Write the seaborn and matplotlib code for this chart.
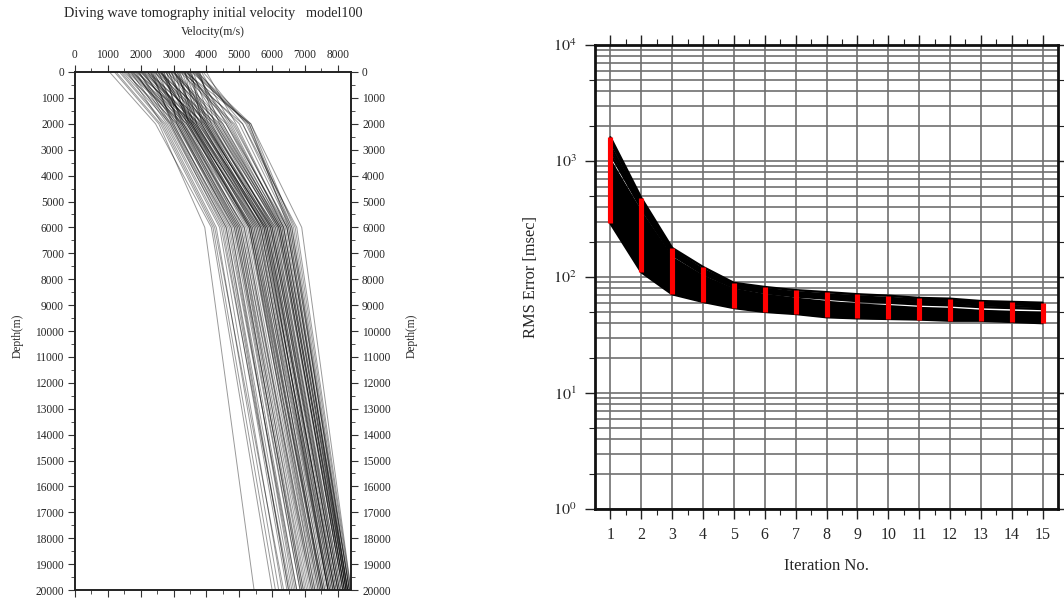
import numpy as np
import pandas as pd
import matplotlib
matplotlib.use("Agg")
import matplotlib.pyplot as plt
from matplotlib.ticker import FixedLocator, NullFormatter
import seaborn as sns

# ---------------------------------------------------------------
# Initial velocity models: velocity (m/s) at the model nodes
# ---------------------------------------------------------------
node_depths = [0, 2000, 6000, 20000]

v_surface = [1050, 1200, 1350, 1450, 1500, 1600, 1650, 1700, 1750, 1800,
             1850, 1900, 1950, 2000, 2050, 2100, 2150, 2200, 2250, 2300,
             2350, 2400, 2450, 2500, 2550, 2600, 2650, 2700, 2750, 2800,
             2850, 2900, 2950, 3000, 3050, 3100, 3150, 3200, 3250, 3300,
             3350, 3400, 3450, 3500, 3550, 3600, 3650, 3700, 3800, 3900,
             4000, 1400, 1550, 1750, 1900, 2050, 2200, 2350, 2450, 2550,
             2650, 2750, 2850, 2950, 3050, 3150, 3250, 3350, 3450, 3550,
             3650, 3750, 1600, 1850, 2100, 2300, 2500, 2700, 2900, 3100,
             3300, 3500, 3700, 1700, 1950, 2200, 2400, 2600, 2800, 3000,
             3200, 3400, 3600, 3850, 1250, 2000, 2600, 3000, 3350, 3750]

v_2km = [2450, 2550, 2700, 2900, 3100, 2650, 3300, 2800, 3500, 3000,
         3650, 3200, 2900, 3400, 3750, 3100, 3550, 3300, 3900, 3000,
         3450, 4050, 3350, 3700, 3150, 4200, 3600, 3250, 3850, 4400,
         3500, 3950, 3400, 4600, 3800, 4100, 3550, 4800, 3900, 4300,
         3700, 5000, 4000, 4500, 5300, 4150, 4700, 5350, 4250, 5200,
         4900, 2750, 2950, 3150, 3550, 3250, 3650, 2950, 3750, 4300,
         3300, 4000, 3650, 4500, 3450, 4150, 5100, 3950, 4650, 3850,
         5300, 4400, 3250, 2850, 3800, 3450, 4100, 3500, 4250, 3700,
         4850, 4050, 4600, 3400, 3050, 3950, 3200, 3850, 3100, 4350,
         3600, 4450, 5250, 4750, 2600, 3600, 3550, 4000, 5350, 5100]

v_6km = [4150, 3950, 4300, 4600, 4900, 4250, 5300, 4450, 5600, 4700,
         5800, 5000, 4500, 5400, 5900, 4850, 5500, 5150, 6000, 4650,
         5250, 6100, 5050, 5700, 4800, 6200, 5450, 4950, 5750, 6300,
         5300, 5950, 5100, 6450, 5650, 6050, 5350, 6500, 5800, 6150,
         5550, 6550, 5850, 6250, 6600, 5950, 6350, 6900, 6000, 6700,
         6450, 4400, 4750, 4950, 5550, 5000, 5650, 4600, 5800, 6250,
         5050, 6000, 5500, 6350, 5200, 6050, 6600, 5750, 6400, 5650,
         6500, 6200, 5150, 4550, 5850, 5350, 6100, 5400, 6150, 5600,
         6450, 5900, 6300, 5350, 4850, 5950, 4900, 5750, 4750, 6200,
         5450, 6250, 6550, 6350, 4200, 5700, 5300, 5850, 6650, 6750]

v_20km = [6000, 5450, 6200, 6500, 6900, 6350, 7300, 6550, 7500, 6700,
          7700, 7100, 6450, 7550, 7900, 6950, 7600, 7250, 8000, 6750,
          7400, 8050, 7200, 7850, 6850, 8150, 7500, 7050, 7800, 8200,
          7450, 8000, 7250, 8300, 7750, 8100, 7550, 8250, 7950, 8150,
          7700, 8350, 7900, 8200, 8300, 7950, 8250, 8400, 8050, 8380,
          8280, 6300, 6650, 6950, 7650, 7000, 7700, 6600, 7850, 8250,
          7150, 8000, 7600, 8300, 7300, 8050, 8350, 7800, 8250, 7750,
          8300, 8150, 7200, 6500, 7850, 7450, 8100, 7500, 8200, 7700,
          8300, 7900, 8200, 7400, 6850, 8000, 6900, 7750, 6750, 8150,
          7550, 8200, 8350, 8250, 6100, 7700, 7350, 7900, 8350, 8400]

# ---------------------------------------------------------------
# RMS misfit per iteration (msec)
# ---------------------------------------------------------------
iterations = list(range(1, 16))
rms_min = [290, 110, 71, 61, 54, 50, 48, 45, 44, 43.5, 43, 42, 42, 41, 40]
rms_max = [1600, 480, 178, 122, 89, 82, 77, 74, 71, 69, 66, 65, 62, 61, 60]
rms_core_top = [1050, 370, 150, 104, 79, 71, 66, 62, 59, 57, 55, 54, 52, 51, 50]

rms_runs = {
    "run01": [1600, 480, 178, 122, 89, 82, 77, 74, 71, 69, 66, 65, 62, 61, 60],
    "run02": [1480, 455, 172, 116, 87, 79, 74, 71, 68, 66, 64, 63, 61, 60, 59],
    "run03": [1350, 430, 166, 112, 85, 77, 72, 69, 66, 64, 62, 61, 59, 58, 57],
    "run04": [1250, 410, 160, 109, 83, 75, 70, 67, 64, 62, 60, 59, 57, 56, 55],
    "run05": [1150, 390, 155, 106, 81, 73, 68, 65, 62, 60, 58, 57, 55, 54, 53],
    "run06": [980, 360, 146, 101, 78, 70, 65, 61, 58, 56, 54, 53, 51, 50, 49],
    "run07": [820, 320, 135, 96, 74, 66, 61, 58, 55, 53, 51, 50, 49, 48, 47],
    "run08": [600, 250, 115, 85, 68, 61, 57, 54, 51, 49, 48, 47, 46, 45, 44],
    "run09": [420, 170, 90, 72, 60, 55, 52, 49, 47, 46, 45, 44, 43, 42, 42],
    "run10": [290, 110, 71, 61, 54, 50, 48, 45, 44, 43.5, 43, 42, 42, 41, 40],
}

# ---------------------------------------------------------------
# Long-form tables for seaborn
# ---------------------------------------------------------------
vel_rows = []
for m, vals in enumerate(zip(v_surface, v_2km, v_6km, v_20km)):
    for d, v in zip(node_depths, vals):
        vel_rows.append({"model": m, "depth": d, "velocity": v})
vel_df = pd.DataFrame(vel_rows)

rms_rows = []
for run, vals in rms_runs.items():
    for it, r in zip(iterations, vals):
        rms_rows.append({"run": run, "iteration": it, "rms": r})
rms_df = pd.DataFrame(rms_rows)

# ---------------------------------------------------------------
# Styling
# ---------------------------------------------------------------
sns.set_theme(style="ticks")
plt.rcParams["font.family"] = ["Liberation Serif", "DejaVu Serif"]
plt.rcParams["mathtext.fontset"] = "stix"

fig = plt.figure(figsize=(10.64, 5.99), dpi=100)
fig.patch.set_facecolor("white")

# ---------------------------- left panel --------------------------
ax1 = fig.add_axes([75 / 1064, 1 - 590 / 599, 276 / 1064, 518 / 599])
sns.lineplot(data=vel_df, x="velocity", y="depth", units="model",
             estimator=None, orient="y", color="black", linewidth=0.7,
             alpha=0.4, ax=ax1, legend=False)
ax1.set_xlim(0, 8400)
ax1.set_ylim(20000, 0)
ax1.xaxis.tick_top()
ax1.xaxis.set_label_position("top")
ax1.set_xticks(np.arange(0, 8001, 1000))
ax1.set_xticks(np.arange(500, 8400, 1000), minor=True)
ax1.set_yticks(np.arange(0, 20001, 1000))
ax1.set_yticks(np.arange(500, 20000, 1000), minor=True)
ax1.tick_params(axis="both", which="major", labelsize=8.3, length=5,
                width=0.8, direction="out", color="#333333", pad=3)
ax1.tick_params(axis="both", which="minor", length=3, width=0.6,
                direction="out", color="#333333")
ax1.tick_params(axis="x", bottom=True, top=True, labelbottom=False,
                which="both")
ax1.tick_params(axis="y", left=True, right=True, labelright=True,
                which="both")
ax1.set_xlabel("")
ax1.set_ylabel("")
for s in ax1.spines.values():
    s.set_linewidth(1.4)
    s.set_color("#222222")
fig.text(213 / 1064, 1 - 14 / 599,
         "Diving wave tomography initial velocity   model100",
         ha="center", va="center", fontsize=10.3)
fig.text(213 / 1064, 1 - 32 / 599, "Velocity(m/s)",
         ha="center", va="center", fontsize=8.5)
fig.text(18 / 1064, 1 - 336 / 599, "Depth(m)", rotation=90,
         ha="center", va="center", fontsize=8.3)
fig.text(412 / 1064, 1 - 336 / 599, "Depth(m)", rotation=90,
         ha="center", va="center", fontsize=8.3)

# ---------------------------- right panel -------------------------
ax2 = fig.add_axes([595 / 1064, 1 - 509 / 599, 463 / 1064, 464 / 599])
ax2.set_yscale("log")
ax2.set_xlim(0.5, 15.5)
ax2.set_ylim(1, 1e4)

# log grid: every 1..9 x 10^k line, and a vertical line per iteration
grid_vals = [m * 10 ** k for k in range(0, 4) for m in range(1, 10)]
ax2.hlines(grid_vals, 0.5, 15.5, colors="#707070", linewidth=1.2, zorder=0)
ax2.vlines(iterations, 1, 1e4, colors="#707070", linewidth=1.2, zorder=0)

ax2.fill_between(iterations, rms_min, rms_core_top, color="black",
                 linewidth=0, zorder=2)
sns.lineplot(data=rms_df, x="iteration", y="rms", units="run",
             estimator=None, color="black", linewidth=1.7, ax=ax2,
             legend=False, zorder=3)
ax2.vlines(iterations, rms_min, rms_max, colors="#ff0000", linewidth=3.7,
           zorder=4)

ax2.yaxis.set_major_locator(FixedLocator([1, 10, 100, 1000, 10000]))
ax2.set_yticklabels([r"$10^{0}$", r"$10^{1}$", r"$10^{2}$", r"$10^{3}$",
                     r"$10^{4}$"])
ax2.yaxis.set_minor_locator(FixedLocator(
    [m * 10 ** k for k in range(0, 4) for m in (2, 5)]))
ax2.yaxis.set_minor_formatter(NullFormatter())
ax2.set_xticks(iterations)
ax2.set_xticks(np.arange(1.5, 15.0, 1.0), minor=True)
ax2.tick_params(axis="both", which="major", labelsize=11.5, length=7,
                width=1.0, direction="out", color="#222222", pad=6)
ax2.tick_params(axis="both", which="minor", length=4, width=0.8,
                direction="out", color="#222222")
ax2.tick_params(axis="x", bottom=True, top=True, which="both")
ax2.tick_params(axis="y", left=True, right=True, which="both")
ax2.set_xlabel("Iteration No.", fontsize=12, labelpad=11)
ax2.set_ylabel("RMS Error [msec]", fontsize=11.8, labelpad=10)
for s in ax2.spines.values():
    s.set_linewidth(2.0)
    s.set_color("#111111")

fig.savefig("out.png", dpi=100, facecolor="white")
